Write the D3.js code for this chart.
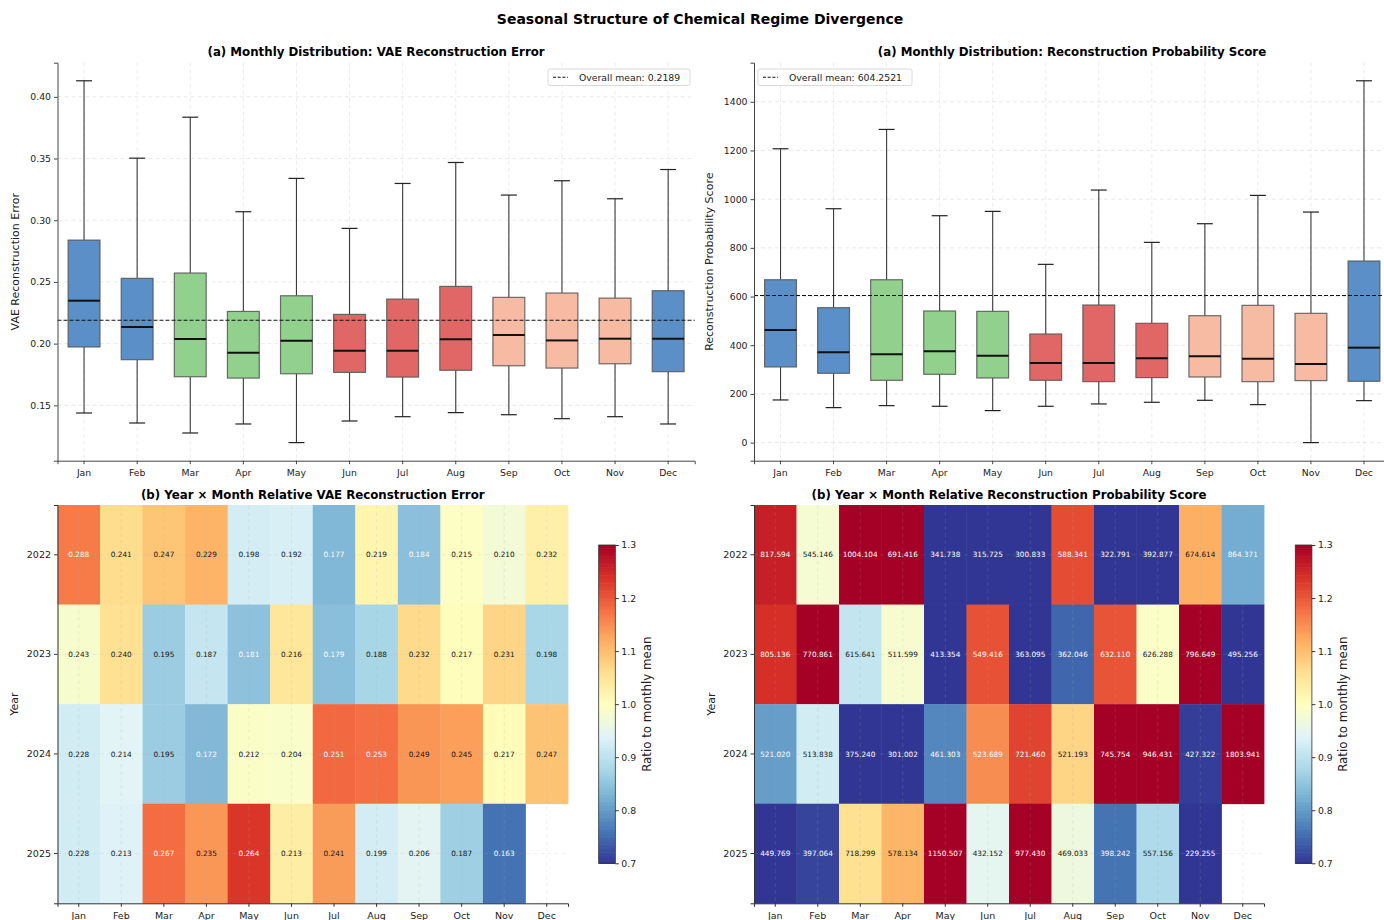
<!DOCTYPE html>
<html>
<head>
<meta charset="utf-8">
<script src="https://cdn.jsdelivr.net/npm/d3@7/dist/d3.min.js"></script>
<style>
  html, body { margin: 0; padding: 0; background: #fff; }
  svg { display: block; font-family: "DejaVu Sans", sans-serif; }
</style>
</head>
<body>
<svg id="chart" width="1384" height="920"></svg>
<script>
// ---------------- DATA ----------------
const months = ["Jan","Feb","Mar","Apr","May","Jun","Jul","Aug","Sep","Oct","Nov","Dec"];
const years = ["2022","2023","2024","2025"];
const seasonOfMonth = ["winter","winter","spring","spring","spring","summer","summer","summer","autumn","autumn","autumn","winter"];

// Box plot statistics: VAE reconstruction error
const vaeLow    = [0.1438,0.1357,0.1276,0.1349,0.1198,0.1373,0.1408,0.1441,0.1424,0.1392,0.1408,0.1349];
const vaeQ1     = [0.1973,0.1870,0.1732,0.1721,0.1756,0.1767,0.1729,0.1784,0.1821,0.1802,0.1837,0.1773];
const vaeMedian = [0.2348,0.2134,0.2037,0.1927,0.2024,0.1943,0.1943,0.2035,0.2070,0.2026,0.2040,0.2040];
const vaeQ3     = [0.2839,0.2529,0.2572,0.2261,0.2388,0.2237,0.2361,0.2464,0.2375,0.2410,0.2369,0.2429];
const vaeHigh   = [0.4130,0.3503,0.3835,0.3069,0.3339,0.2934,0.3298,0.3468,0.3204,0.3320,0.3174,0.3411];
const vaeOverallMean = 0.2189;

// Box plot statistics: reconstruction probability score
const probLow    = [175.2,143.7,151.9,149.2,131.4,149.2,158.8,165.6,173.8,156.0,0.0,172.4];
const probQ1     = [310.7,284.7,255.9,280.6,265.5,255.9,250.4,266.9,269.6,250.4,254.6,251.8];
const probMedian = [462.6,370.9,362.7,375.0,357.2,327.1,327.1,346.2,354.5,344.9,323.0,390.0];
const probQ3     = [669.0,554.3,669.0,540.6,539.2,446.1,565.2,490.0,521.4,563.8,531.0,745.9];
const probHigh   = [1207.0,960.7,1286.4,932.0,949.8,732.2,1037.4,822.5,899.1,1015.5,947.0,1486.2];
const probOverallMean = 604.2521;

// Year x month cell values
const vaeGrid = [
  [0.288,0.241,0.247,0.229,0.198,0.192,0.177,0.219,0.184,0.215,0.210,0.232],
  [0.243,0.240,0.195,0.187,0.181,0.216,0.179,0.188,0.232,0.217,0.231,0.198],
  [0.228,0.214,0.195,0.172,0.212,0.204,0.251,0.253,0.249,0.245,0.217,0.247],
  [0.228,0.213,0.267,0.235,0.264,0.213,0.241,0.199,0.206,0.187,0.163,null]
];
const probGrid = [
  [817.594,545.146,1004.104,691.416,341.738,315.725,300.833,588.341,322.791,392.877,674.614,864.371],
  [805.136,770.861,615.641,511.599,413.354,549.416,363.095,362.046,632.110,626.288,796.649,495.256],
  [521.020,513.838,375.240,301.002,461.303,523.689,721.460,521.193,745.754,946.431,427.322,1803.941],
  [449.769,397.064,718.299,578.134,1150.507,432.152,977.430,469.033,398.242,557.156,229.255,null]
];
// days observed in each year/month (Nov 2025 partial, Dec 2025 missing)
const daysObserved = [
  [31,28,31,30,31,30,31,31,30,31,30,31],
  [31,28,31,30,31,30,31,31,30,31,30,31],
  [31,29,31,30,31,30,31,31,30,31,30,31],
  [31,28,31,30,31,30,31,31,30,31,7,0]
];

const vaeTicks = [0.15,0.20,0.25,0.30,0.35,0.40];
const probTicks = [0,200,400,600,800,1000,1200,1400];
const cbarTicks = [0.7,0.8,0.9,1.0,1.1,1.2,1.3];

const seasonColor = {winter:"#5b8fc7", spring:"#92d08d", summer:"#e16767", autumn:"#f7bba4"};

// ---------------- DRAW ----------------
const svg = d3.select("#chart");
const FONT = "DejaVu Sans, sans-serif";

svg.append("text").attr("x", 700).attr("y", 24).attr("text-anchor","middle")
  .attr("font-size", 14).attr("font-weight","bold").text("Seasonal Structure of Chemical Regime Divergence");

function boxPanel(opt) {
  const {x0, x1, y0, y1, low, q1, med, q3, high, mean, ticks, fmt, title, ylabel, legendX, legendW, legendText} = opt;
  const g = svg.append("g");
  const x = d3.scaleBand().domain(months).range([x0, x1]).paddingInner(0).paddingOuter(0);
  const unit = x.bandwidth();
  const lo = d3.min(low), hi = d3.max(high), pad = (hi - lo) * 0.05;
  const y = d3.scaleLinear().domain([lo - pad, hi + pad]).range([y1, y0]);
  const cx = m => x(m) + unit / 2;

  // grid
  g.append("g").selectAll("line").data(ticks).join("line")
    .attr("x1", x0).attr("x2", x1).attr("y1", d => y(d)).attr("y2", d => y(d))
    .attr("stroke", "#b0b0b0").attr("stroke-opacity", 0.35).attr("stroke-dasharray", "4,3").attr("stroke-width", 0.8);
  g.append("g").selectAll("line").data(months).join("line")
    .attr("x1", d => cx(d)).attr("x2", d => cx(d)).attr("y1", y0).attr("y2", y1)
    .attr("stroke", "#b0b0b0").attr("stroke-opacity", 0.3).attr("stroke-dasharray", "4,3").attr("stroke-width", 0.8);

  // boxes
  months.forEach((m, i) => {
    const c = cx(m), bw = unit * 0.6, cw = unit * 0.3;
    const wc = "#3a3a3a";
    g.append("line").attr("x1", c).attr("x2", c).attr("y1", y(q3[i])).attr("y2", y(high[i])).attr("stroke", wc).attr("stroke-width", 1.1);
    g.append("line").attr("x1", c).attr("x2", c).attr("y1", y(q1[i])).attr("y2", y(low[i])).attr("stroke", wc).attr("stroke-width", 1.1);
    g.append("line").attr("x1", c - cw/2).attr("x2", c + cw/2).attr("y1", y(high[i])).attr("y2", y(high[i])).attr("stroke", "#222").attr("stroke-width", 1.2);
    g.append("line").attr("x1", c - cw/2).attr("x2", c + cw/2).attr("y1", y(low[i])).attr("y2", y(low[i])).attr("stroke", "#222").attr("stroke-width", 1.2);
    g.append("rect").attr("x", c - bw/2).attr("y", y(q3[i])).attr("width", bw).attr("height", y(q1[i]) - y(q3[i]))
      .attr("fill", seasonColor[seasonOfMonth[i]]).attr("stroke", "#555").attr("stroke-opacity", 0.85).attr("stroke-width", 1.2);
    g.append("line").attr("x1", c - bw/2).attr("x2", c + bw/2).attr("y1", y(med[i])).attr("y2", y(med[i])).attr("stroke", "#111").attr("stroke-width", 2);
  });

  // mean line
  g.append("line").attr("x1", x0).attr("x2", x1).attr("y1", y(mean)).attr("y2", y(mean))
    .attr("stroke", "#111").attr("stroke-width", 1.1).attr("stroke-dasharray", "4,2");

  // axes
  const ya = g.append("g").attr("transform", `translate(${x0},0)`)
    .call(d3.axisLeft(y).tickValues(ticks).tickFormat(fmt).tickSize(3.5).tickPadding(3));
  ya.select(".domain").attr("stroke", "#444").attr("stroke-width", 1);
  ya.selectAll(".tick line").attr("stroke", "#444");
  ya.selectAll("text").attr("font-size", 9.3).attr("fill", "#222").attr("font-family", FONT);
  const xa = g.append("g").attr("transform", `translate(0,${y1})`)
    .call(d3.axisBottom(x).tickSize(3.5).tickPadding(5.5));
  xa.select(".domain").attr("stroke", "#444").attr("stroke-width", 1);
  xa.selectAll(".tick line").attr("stroke", "#444");
  xa.selectAll("text").attr("font-size", 9.3).attr("fill", "#222").attr("font-family", FONT);

  g.append("text").attr("x", (x0 + Math.min(x1, 1390)) / 2).attr("y", y0 - 6.5).attr("text-anchor", "middle")
    .attr("font-size", 11.8).attr("font-weight", "bold").text(title);
  g.append("text").attr("transform", `translate(${opt.ylabelX},${(y0 + y1) / 2}) rotate(-90)`)
    .attr("text-anchor", "middle").attr("font-size", 11).attr("fill", "#222").text(ylabel);

  // legend
  const lg = g.append("g").attr("transform", `translate(${legendX},69)`);
  lg.append("rect").attr("width", legendW).attr("height", 16.5).attr("rx", 2).attr("fill", "#fff").attr("fill-opacity", 0.9)
    .attr("stroke", "#d0d0d0").attr("stroke-width", 0.8);
  lg.append("line").attr("x1", 5).attr("x2", 20).attr("y1", 8.2).attr("y2", 8.2).attr("stroke", "#111").attr("stroke-width", 1.1).attr("stroke-dasharray", "3,1.7");
  lg.append("text").attr("x", 31).attr("y", 11.5).attr("font-size", 9.3).attr("fill", "#222").text(legendText);
}

boxPanel({x0: 57.5, x1: 694.7, y0: 62.7, y1: 460.7, low: vaeLow, q1: vaeQ1, med: vaeMedian, q3: vaeQ3, high: vaeHigh,
  mean: vaeOverallMean, ticks: vaeTicks, fmt: d3.format(".2f"),
  title: "(a) Monthly Distribution: VAE Reconstruction Error", ylabel: "VAE Reconstruction Error", ylabelX: 19,
  legendX: 548, legendW: 142, legendText: "Overall mean: " + vaeOverallMean.toFixed(4)});

boxPanel({x0: 754, x1: 1390.5, y0: 62.7, y1: 460.7, low: probLow, q1: probQ1, med: probMedian, q3: probQ3, high: probHigh,
  mean: probOverallMean, ticks: probTicks, fmt: d3.format("d"),
  title: "(a) Monthly Distribution: Reconstruction Probability Score", ylabel: "Reconstruction Probability Score", ylabelX: 713,
  legendX: 758, legendW: 154, legendText: "Overall mean: " + probOverallMean.toFixed(4)});

// -------- heatmaps --------
const rdylbu = ["#a50026","#d73027","#f46d43","#fdae61","#fee090","#ffffbf","#e0f3f8","#abd9e9","#74add1","#4575b4","#313695"];
const cmap = d3.piecewise(d3.interpolateRgb, rdylbu.slice().reverse());
const color = d3.scaleLinear().domain([0.7, 1.3]).range([0, 1]).clamp(true);

function monthlyMeans(grid) {
  return months.map((m, j) => {
    let s = 0, w = 0;
    grid.forEach((row, i) => { if (row[j] != null) { s += row[j] * daysObserved[i][j]; w += daysObserved[i][j]; } });
    return s / w;
  });
}

function heatPanel(opt) {
  const {x0, x1, y0, y1, grid, title, cbX} = opt;
  const g = svg.append("g");
  const x = d3.scaleBand().domain(months).range([x0, x1]);
  const y = d3.scaleBand().domain(years).range([y0, y1]);
  const means = monthlyMeans(grid);
  years.forEach((yr, i) => months.forEach((m, j) => {
    const v = grid[i][j];
    if (v == null) return;
    const r = v / means[j];
    g.append("rect").attr("x", x(m)).attr("y", y(yr)).attr("width", x.bandwidth() + 0.4).attr("height", y.bandwidth() + 0.4)
      .attr("fill", cmap(color(r)));
    g.append("text").attr("x", x(m) + x.bandwidth() / 2).attr("y", y(yr) + y.bandwidth() / 2 + 2.6)
      .attr("text-anchor", "middle").attr("font-size", 7.3)
      .attr("fill", Math.abs(r - 1) > 0.15 ? "#fff" : "#111").text(v.toFixed(3));
  }));
  // faint grid
  g.append("g").selectAll("line").data(months).join("line")
    .attr("x1", d => x(d) + x.bandwidth()/2).attr("x2", d => x(d) + x.bandwidth()/2).attr("y1", y0).attr("y2", y1)
    .attr("stroke", "#b0b0b0").attr("stroke-opacity", 0.25).attr("stroke-dasharray", "4,3").attr("stroke-width", 0.7);
  g.append("g").selectAll("line").data(years).join("line")
    .attr("y1", d => y(d) + y.bandwidth()/2).attr("y2", d => y(d) + y.bandwidth()/2).attr("x1", x0).attr("x2", x1)
    .attr("stroke", "#b0b0b0").attr("stroke-opacity", 0.25).attr("stroke-dasharray", "4,3").attr("stroke-width", 0.7);

  const ya = g.append("g").attr("transform", `translate(${x0},0)`).call(d3.axisLeft(y).tickSize(3.5).tickPadding(3));
  ya.select(".domain").attr("stroke", "#333");
  ya.selectAll(".tick line").attr("stroke", "#333");
  ya.selectAll("text").attr("font-size", 9.5).attr("fill", "#222").attr("font-family", FONT);
  const xa = g.append("g").attr("transform", `translate(0,${y1})`).call(d3.axisBottom(x).tickSize(3.5).tickPadding(5));
  xa.select(".domain").attr("stroke", "#333");
  xa.selectAll(".tick line").attr("stroke", "#333");
  xa.selectAll("text").attr("font-size", 9.5).attr("fill", "#222").attr("font-family", FONT);

  g.append("text").attr("x", (x0 + x1) / 2).attr("y", y0 - 6.5).attr("text-anchor", "middle")
    .attr("font-size", 11.8).attr("font-weight", "bold").text(title);
  g.append("text").attr("transform", `translate(${opt.ylabelX},${(y0 + y1) / 2}) rotate(-90)`)
    .attr("text-anchor", "middle").attr("font-size", 11).attr("fill", "#222").text("Year");

  // colorbar
  const cy0 = 545, cy1 = 863.3, cw = 16.6;
  const cs = d3.scaleLinear().domain([0.7, 1.3]).range([cy1, cy0]);
  const steps = d3.range(0, 200);
  g.append("g").selectAll("rect").data(steps).join("rect")
    .attr("x", cbX).attr("width", cw)
    .attr("y", d => cy1 - (d + 1) * (cy1 - cy0) / 200).attr("height", (cy1 - cy0) / 200 + 0.6)
    .attr("fill", d => cmap((d + 0.5) / 200));
  g.append("rect").attr("x", cbX).attr("y", cy0).attr("width", cw).attr("height", cy1 - cy0)
    .attr("fill", "none").attr("stroke", "#333").attr("stroke-width", 0.8);
  const ca = g.append("g").attr("transform", `translate(${cbX + cw},0)`)
    .call(d3.axisRight(cs).tickValues(cbarTicks).tickFormat(d3.format(".1f")).tickSize(3.5).tickPadding(2.5));
  ca.select(".domain").remove();
  ca.selectAll(".tick line").attr("stroke", "#333");
  ca.selectAll("text").attr("font-size", 9.3).attr("fill", "#222").attr("font-family", FONT);
  g.append("text").attr("transform", `translate(${cbX + cw + 35.5},${(cy0 + cy1) / 2}) rotate(-90)`)
    .attr("text-anchor", "middle").attr("font-size", 11.8).attr("fill", "#222").text("Ratio to monthly mean");
}

heatPanel({x0: 57.5, x1: 568, y0: 505, y1: 903.3, grid: vaeGrid, ylabelX: 18, cbX: 598.7,
  title: "(b) Year × Month Relative VAE Reconstruction Error"});
heatPanel({x0: 754, x1: 1264, y0: 505, y1: 903.3, grid: probGrid, ylabelX: 715, cbX: 1295.3,
  title: "(b) Year × Month Relative Reconstruction Probability Score"});
</script>
</body>
</html>
